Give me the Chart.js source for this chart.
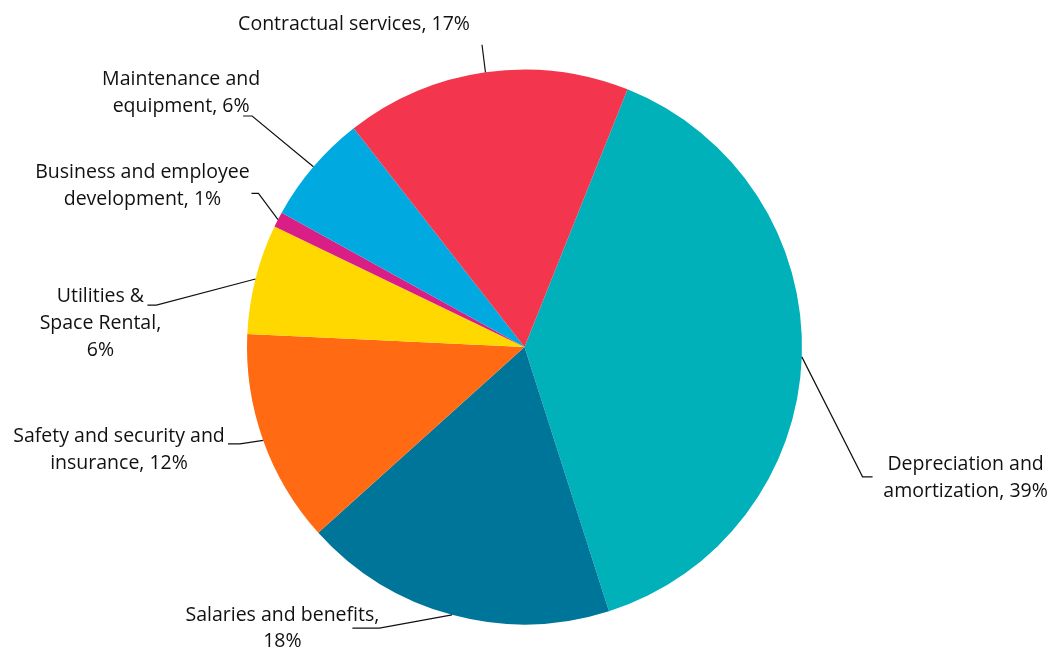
<!DOCTYPE html>
<html>
<head>
<meta charset="utf-8">
<script src="https://cdn.jsdelivr.net/npm/chart.js@4.4.1/dist/chart.umd.min.js"></script>
<style>
html,body{margin:0;padding:0;background:#fff;}
#wrap{width:1051px;height:649px;position:relative;}
</style>
</head>
<body>
<div id="wrap"><canvas id="c"></canvas></div>
<script>
// Data
const categories = [
  "Depreciation and amortization",
  "Salaries and benefits",
  "Safety and security and insurance",
  "Utilities & Space Rental",
  "Business and employee development",
  "Maintenance and equipment",
  "Contractual services"
];
const values = [39, 18.25, 12.4, 6.4, 0.9, 6.4, 16.6];
const colors = ["#00B1B9", "#00759A", "#FF6A13", "#FFD800", "#D91E86", "#00A9E0", "#F3364D"];
// label line wrapping ({p} = percentage)
const labelLines = [
  ["Depreciation and", "amortization, {p}%"],
  ["Salaries and benefits,", "{p}%"],
  ["Safety and security and", "insurance, {p}%"],
  ["Utilities &", "Space Rental,", "{p}%"],
  ["Business and employee", "development, {p}%"],
  ["Maintenance and", "equipment, {p}%"],
  ["Contractual services, {p}%"]
];

// leader-line layout: elbow in polar coords (radius factor, angle deg clockwise from top),
// tick = horizontal segment length (signed), text offset from tick end
const leaderCfg = [
  {r: 1.305, a: 111,   tick: 10,  dx: 93,   dy: -12.5},
  {r: 1.14,  a: 207.3, tick: -27, dx: -70,  dy: -13},
  {r: 1.083, a: 251.2, tick: -12, dx: -109, dy: -7.5},
  {r: 1.335, a: 276.5, tick: -9,  dx: -47,  dy: -8.5},
  {r: 1.107, a: 300,   tick: -7,  dx: -109, dy: -20.5},
  {r: 1.287, a: 310.3, tick: -9,  dx: -62,  dy: -36.5},
  {r: 1.10,  a: 352,   tick: 0,   dx: -128, dy: -20.5}
];

const total = values.reduce((s, v) => s + v, 0);

const leaderPlugin = {
  id: 'leaders',
  afterDatasetsDraw(chart) {
    const ctx = chart.ctx;
    const meta = chart.getDatasetMeta(0);
    ctx.save();
    ctx.font = '19.5px "Open Sans"';
    ctx.textAlign = 'center';
    ctx.textBaseline = 'middle';
    meta.data.forEach((arc, i) => {
      const p = arc.getProps(['x', 'y', 'startAngle', 'endAngle', 'outerRadius'], true);
      const mid = (p.startAngle + p.endAngle) / 2;
      const ax = p.x + Math.cos(mid) * p.outerRadius;
      const ay = p.y + Math.sin(mid) * p.outerRadius;
      const cfg = leaderCfg[i];
      const ea = (cfg.a - 90) * Math.PI / 180;
      const ex = p.x + Math.cos(ea) * p.outerRadius * cfg.r;
      const ey = p.y + Math.sin(ea) * p.outerRadius * cfg.r;
      const tx = ex + cfg.tick;
      ctx.strokeStyle = '#111';
      ctx.lineWidth = 1.2;
      ctx.beginPath();
      ctx.moveTo(ax, ay);
      ctx.lineTo(ex, ey);
      if (cfg.tick !== 0) ctx.lineTo(tx, ey);
      ctx.stroke();
      const pct = Math.round(values[i] / total * 100);
      ctx.fillStyle = '#111';
      labelLines[i].forEach((ln, k) => {
        ctx.fillText(ln.replace('{p}', pct), tx + cfg.dx, ey + cfg.dy + k * 26.7);
      });
    });
    ctx.restore();
  }
};

new Chart(document.getElementById('c'), {
  type: 'pie',
  data: {
    labels: categories,
    datasets: [{
      data: values,
      backgroundColor: colors,
      borderWidth: 0
    }]
  },
  options: {
    responsive: true,
    maintainAspectRatio: false,
    animation: false,
    rotation: 21.8,
    layout: {padding: {top: 69.5, bottom: 24.5, left: 0, right: 2}},
    plugins: {
      legend: {display: false},
      tooltip: {enabled: false}
    }
  },
  plugins: [leaderPlugin]
});
</script>
</body>
</html>
